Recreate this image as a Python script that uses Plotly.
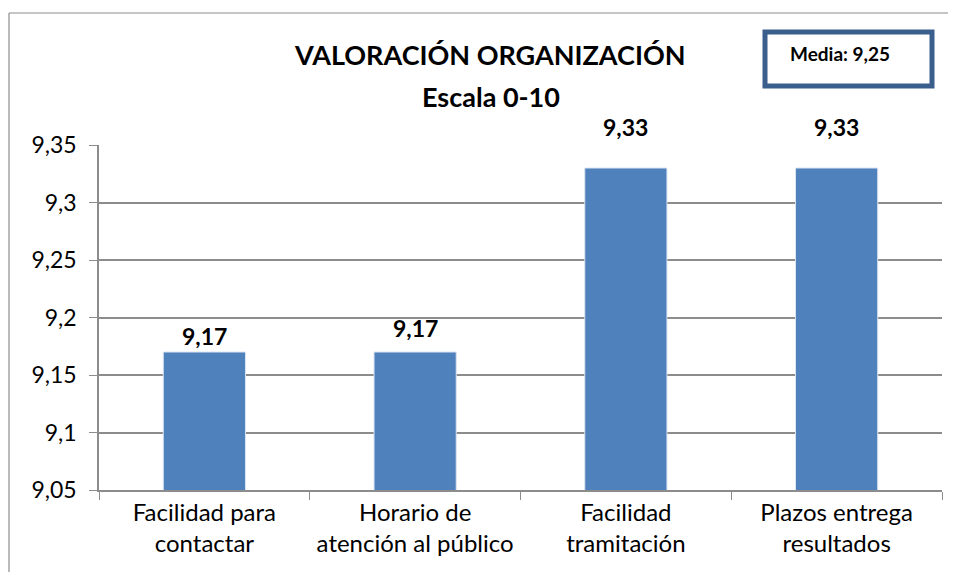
import plotly.graph_objects as go

# Chart data
categorias = ["Facilidad para<br>contactar", "Horario de<br>atención al público",
              "Facilidad<br>tramitación", "Plazos entrega<br>resultados"]
valores = [9.17, 9.17, 9.33, 9.33]
y_ticks = [9.05, 9.1, 9.15, 9.2, 9.25, 9.3, 9.35]
titulo = "VALORACIÓN ORGANIZACIÓN"
subtitulo = "Escala 0-10"
media_texto = "Media: 9,25"

FONT = "Lato, Calibri, sans-serif"
GRID = "#8c8c8c"

# plot area in page pixels (the page body has an 8px margin)
PX0, PX1, PY0, PY1 = 99, 942, 145, 490


def px(x):
    return (x - PX0) / (PX1 - PX0)


def py(y):
    return (PY1 - y) / (PY1 - PY0)


fig = go.Figure(go.Bar(
    x=categorias,
    y=valores,
    width=0.39,
    marker=dict(color="#4f81bd", line=dict(color="#dbe5f1", width=1)),
))

# value labels, lifted above each bar the way the original places them
label_shift = [16, 24, 41, 41]
for cat, val, dy in zip(categorias, valores, label_shift):
    fig.add_annotation(x=cat, y=val, yshift=dy, showarrow=False,
                       xanchor="center", yanchor="middle",
                       text="<b>" + f"{val:.2f}".replace(".", ",") + "</b>",
                       font=dict(size=23, family=FONT, color="#000000"))

fig.update_layout(
    width=948, height=564,
    margin=dict(l=91, r=14, t=137, b=82),
    paper_bgcolor="white", plot_bgcolor="white",
    separators=",.",
    showlegend=False,
    font=dict(family=FONT, color="#000000"),
)

fig.update_yaxes(
    range=[9.05, 9.35], tickvals=y_ticks,
    showgrid=True, gridcolor=GRID, gridwidth=1.5,
    showline=True, linecolor=GRID, linewidth=1.5,
    ticks="outside", ticklen=8, tickcolor=GRID, ticklabelstandoff=8,
    tickfont=dict(size=23, family=FONT, color="#000000"),
    zeroline=False,
)
fig.update_xaxes(
    showline=True, linecolor=GRID, linewidth=1.5,
    ticks="outside", ticklen=8, tickcolor=GRID, tickson="boundaries",
    tickfont=dict(size=24, family=FONT, color="#000000"),
)

# title, two lines
fig.add_annotation(xref="paper", yref="paper", x=px(490), y=py(55),
                   xanchor="center", yanchor="middle", showarrow=False,
                   text="<b>" + titulo + "</b>",
                   font=dict(size=27, family=FONT, color="#000000"))
fig.add_annotation(xref="paper", yref="paper", x=px(491), y=py(96),
                   xanchor="center", yanchor="middle", showarrow=False,
                   text="<b>" + subtitulo + "</b>",
                   font=dict(size=27, family=FONT, color="#000000"))

# outer chart border (only left and top edges fall inside the picture)
fig.add_shape(type="line", xref="paper", yref="paper",
              x0=px(9), x1=px(9), y0=py(600), y1=py(13),
              line=dict(color="#8c8c8c", width=1.2))
fig.add_shape(type="line", xref="paper", yref="paper",
              x0=px(9), x1=px(990), y0=py(13), y1=py(13),
              line=dict(color="#8c8c8c", width=1.2))

# "Media" box
fig.add_shape(type="rect", xref="paper", yref="paper",
              x0=px(765), x1=px(932), y0=py(86), y1=py(32),
              line=dict(color="#3b5f8c", width=5), fillcolor="white")
fig.add_annotation(xref="paper", yref="paper", x=px(788), y=py(53),
                   xanchor="left", yanchor="middle", showarrow=False,
                   text="<b>" + media_texto + "</b>",
                   font=dict(size=19, family=FONT, color="#000000"))

fig.write_html("out.html", config={"displayModeBar": False})
